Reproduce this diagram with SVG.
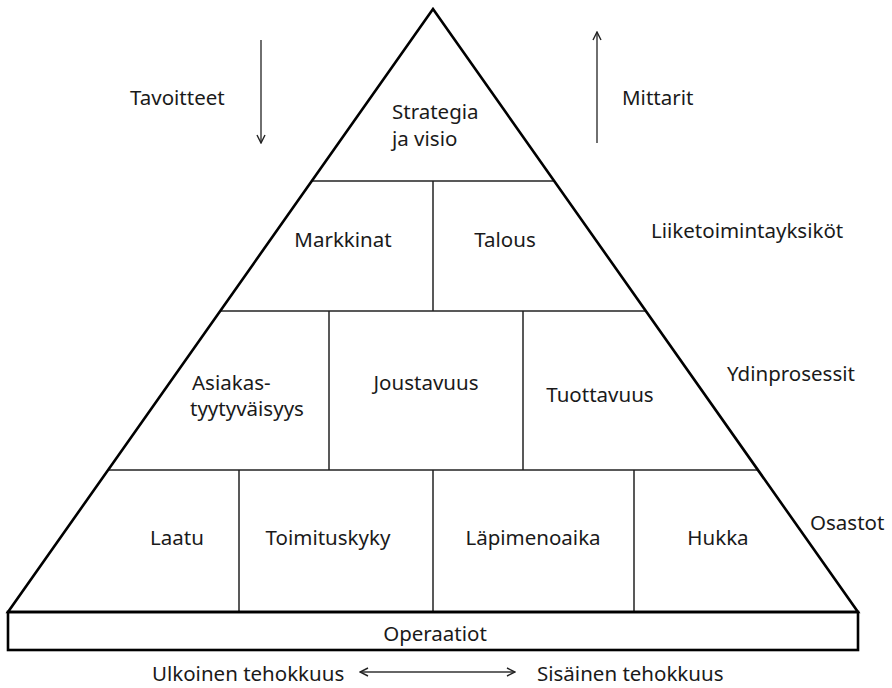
<svg xmlns="http://www.w3.org/2000/svg" width="892" height="688" viewBox="0 0 892 688">
<style>
  .t { font-family: "Noto Sans", "Open Sans", sans-serif; font-size: 20.5px; fill: #1a1a1a; }
  .m { text-anchor: middle; }
  .div { stroke: #222; stroke-width: 1.5; fill: none; }
  .edge { stroke: #000; stroke-width: 2.6; fill: none; stroke-linejoin: miter; }
  .arr { stroke: #333; stroke-width: 1.4; fill: none; }
</style>
<defs>
  <marker id="ah" viewBox="0 0 10 10" refX="9" refY="5" markerWidth="10" markerHeight="10" markerUnits="userSpaceOnUse" orient="auto-start-reverse">
    <path d="M1,1 L9,5 L1,9" fill="none" stroke="#222" stroke-width="1.4"/>
  </marker>
</defs>
<rect width="892" height="688" fill="#fff"/>
<g id="connectors">
  <line class="arr" x1="261" y1="40" x2="261" y2="143" marker-end="url(#ah)"/>
  <line class="arr" x1="597" y1="143" x2="597" y2="32" marker-end="url(#ah)"/>
  <line class="arr" x1="360" y1="672" x2="515" y2="672" marker-start="url(#ah)" marker-end="url(#ah)"/>
</g>
<g id="pyramid">
  <line class="div" x1="312" y1="181" x2="554" y2="181"/>
  <line class="div" x1="220" y1="311" x2="646" y2="311"/>
  <line class="div" x1="108" y1="470" x2="758" y2="470"/>
  <line class="div" x1="433" y1="181" x2="433" y2="311"/>
  <line class="div" x1="329" y1="311" x2="329" y2="470"/>
  <line class="div" x1="523" y1="311" x2="523" y2="470"/>
  <line class="div" x1="239" y1="470" x2="239" y2="612"/>
  <line class="div" x1="433" y1="470" x2="433" y2="612"/>
  <line class="div" x1="634" y1="470" x2="634" y2="612"/>
  <polygon class="edge" points="433,9 858,612 8,612"/>
</g>
<g id="operaatiot">
  <rect class="edge" x="8" y="612" width="850" height="38"/>
  <text class="t m" x="435" y="641">Operaatiot</text>
</g>
<g id="strategia"><text class="t" x="392" y="119">Strategia</text><text class="t" x="392" y="146">ja visio</text></g>
<g id="markkinat"><text class="t m" x="343" y="247">Markkinat</text></g>
<g id="talous"><text class="t m" x="505" y="247">Talous</text></g>
<g id="asiakas"><text class="t" x="192" y="390">Asiakas-</text><text class="t" x="190" y="416">tyytyväisyys</text></g>
<g id="joustavuus"><text class="t m" x="426" y="390">Joustavuus</text></g>
<g id="tuottavuus"><text class="t m" x="600" y="402">Tuottavuus</text></g>
<g id="laatu"><text class="t m" x="177" y="545">Laatu</text></g>
<g id="toimituskyky"><text class="t m" x="328" y="545">Toimituskyky</text></g>
<g id="lapimenoaika"><text class="t m" x="533" y="545">Läpimenoaika</text></g>
<g id="hukka"><text class="t m" x="718" y="545">Hukka</text></g>
<g id="labels">
  <text class="t" x="130" y="105">Tavoitteet</text>
  <text class="t" x="622" y="105">Mittarit</text>
  <text class="t" x="651" y="238">Liiketoimintayksiköt</text>
  <text class="t" x="727" y="381">Ydinprosessit</text>
  <text class="t" x="810" y="530">Osastot</text>
  <text class="t" x="152" y="681">Ulkoinen tehokkuus</text>
  <text class="t" x="537" y="681">Sisäinen tehokkuus</text>
</g>
</svg>
